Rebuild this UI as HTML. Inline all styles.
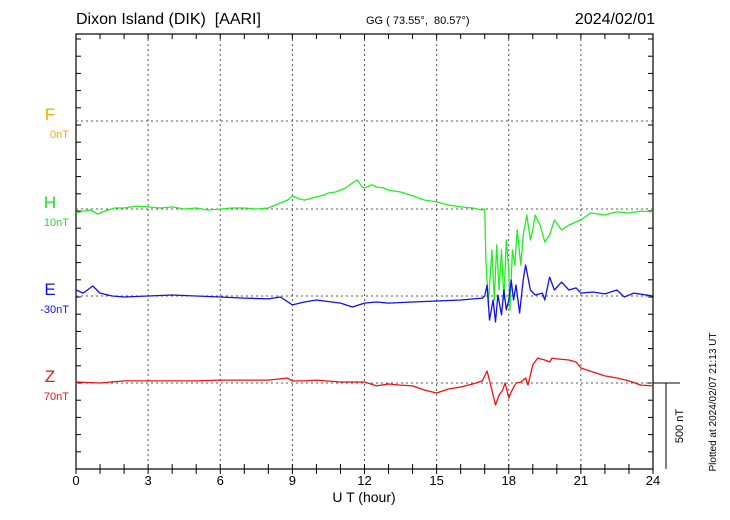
<!DOCTYPE html>
<html><head><meta charset="utf-8"><style>
body{margin:0;background:#fff}
svg{display:block;font-family:"Liberation Sans",sans-serif}
</style></head><body>
<svg id="c" width="730" height="520" viewBox="0 0 730 520">
<text x="76" y="24" font-size="16">Dixon Island (DIK)&#160;&#160;[AARI]</text>
<text x="366" y="24" font-size="11">GG ( 73.55°,&#160;&#160;80.57°)</text>
<text x="655" y="24" font-size="16" text-anchor="end">2024/02/01</text>
<text x="364" y="502" font-size="14" text-anchor="middle">U T (hour)</text>
<text transform="translate(716,402) rotate(-90)" font-size="10" text-anchor="middle">Plotted at 2024/02/07 21:13 UT</text>
<text transform="translate(683,426) rotate(-90)" font-size="11" text-anchor="middle">500 nT</text>
<g id="g"></g>
</svg>
<script>
const xTicks=[0,3,6,9,12,15,18,21,24];
const labels=['F','H','E','Z'];
const offsets=['0nT','10nT','-30nT','70nT'];
const colors=['#f5a800','#22dd22','#1010e0','#ee1111'];
const lineColors=['#f5a800','#22ee22','#1010ee','#ee1111'];
const baseY=[121,209,296,383];
const hHours=[0,0.3,0.6,0.9,1.2,1.6,2,2.5,3,3.5,4,4.5,5,5.5,6,6.5,7,7.5,8,8.5,8.8,9,9.3,9.5,10,10.3,10.5,10.8,11,11.2,11.5,11.7,11.9,12,12.3,12.5,12.8,13,13.5,14,14.5,15,15.5,16,16.5,16.9,17.0,17.05,17.15,17.3,17.4,17.5,17.6,17.7,17.8,17.9,18.0,18.05,18.15,18.25,18.35,18.5,18.6,18.75,18.9,19.0,19.1,19.3,19.5,19.7,19.9,20.2,20.5,21,21.4,22,22.5,23,23.5,24];
const hVals=[-23,-12,-6,-29,-12,6,6,17,12,6,12,0,6,-6,0,6,6,0,6,35,52,76,58,52,70,81,93,99,110,122,151,169,128,122,140,128,122,110,99,76,52,41,23,12,6,-6,0,-297,-558,-238,-529,-209,-471,-238,-529,-180,-355,-587,-238,-326,-122,-326,-151,-35,-180,-122,-35,-93,-192,-151,-64,-122,-93,-64,-23,-35,-17,-23,-12,-17];
const eHours=[0,0.3,0.7,1,1.5,2,3,4,5,6,7,8,8.5,9,9.5,10,11,11.5,12,12.5,13,14,15,16,16.9,17.0,17.1,17.2,17.35,17.45,17.55,17.7,17.8,17.9,18.0,18.1,18.2,18.3,18.45,18.6,18.7,18.9,19.1,19.4,19.5,19.7,19.9,20.2,20.5,20.8,21,21.5,22,22.5,22.8,23.2,24];
const eVals=[35,17,58,17,0,-6,0,6,0,-6,-12,-17,-6,-52,-35,-23,-41,-64,-41,-35,-41,-35,-29,-23,-12,0,64,-140,-23,-151,6,-110,35,-81,-23,93,-23,64,-99,93,180,35,6,17,-23,110,35,81,35,47,17,23,12,35,-6,17,0];
const zHours=[0,1,2,3,4,5,6,7,8,8.8,9,9.5,10,11,12,12.5,13,13.5,14,14.5,15,15.5,16,16.5,16.9,17.1,17.3,17.45,17.6,17.75,17.85,18.0,18.1,18.3,18.5,18.7,18.8,19.0,19.2,19.5,19.7,19.8,20,20.5,20.8,21,21.5,22,22.5,23,23.5,24];
const zVals=[6,0,12,12,12,12,17,17,17,29,12,12,17,6,6,-17,-6,-12,-17,-41,-58,-35,-23,-6,12,70,-41,-128,-70,-41,0,-87,-52,0,6,29,-12,105,145,134,122,145,140,134,122,87,64,41,29,12,-12,-17];
const px=h=>76+h*(577/24);
const py=(i,v)=>baseY[i]-v*0.172;
const g=document.getElementById('g');
const NS='http://www.w3.org/2000/svg';
function mk(t,a){const e=document.createElementNS(NS,t);for(const k in a)e.setAttribute(k,a[k]);g.appendChild(e);return e;}
let e=mk('rect',{x:76,y:34,width:577,height:435,fill:'none',stroke:'#000','stroke-width':1.2});


xTicks.forEach(t=>{if(t>0&&t<24){const l=mk('line',{x1:px(t),x2:px(t),y1:34,y2:469,stroke:'#555','stroke-dasharray':'2,3'});

}
const tx=mk('text',{x:px(t),y:485,'font-size':13,'text-anchor':'middle'});tx.textContent=t;

});
for(let h=0;h<=24;h++){mk('line',{x1:px(h),x2:px(h),y1:34,y2:39,stroke:'#000'});mk('line',{x1:px(h),x2:px(h),y1:469,y2:464,stroke:'#000'});mk('line',{x1:px(h),x2:px(h),y1:469,y2:474,stroke:'#000'});}
for(let y=383;y>=34;y-=17.2){mk('line',{x1:76,x2:81,y1:y,y2:y,stroke:'#000'});mk('line',{x1:648,x2:653,y1:y,y2:y,stroke:'#000'});}
for(let y=383;y<=469;y+=17.2){mk('line',{x1:76,x2:81,y1:y,y2:y,stroke:'#000'});mk('line',{x1:648,x2:653,y1:y,y2:y,stroke:'#000'});}
baseY.forEach((y,i)=>{const l=mk('line',{x1:76,x2:653,y1:y,y2:y,stroke:'#555','stroke-dasharray':'2,3'});


const t=mk('text',{x:50,y:y-1,'font-size':17,'text-anchor':'middle',fill:colors[i]});t.textContent=labels[i];


const o=mk('text',{x:69,y:y+17,'font-size':11,'text-anchor':'end',fill:colors[i]});o.textContent=offsets[i];

});
mk('line',{x1:653,x2:680,y1:383,y2:383,stroke:'#000'});
e=mk('line',{x1:666,x2:666,y1:383,y2:469,stroke:'#000'});


[[1,hHours,hVals,'h'],[2,eHours,eVals,'e'],[3,zHours,zVals,'z']].forEach(([i,hs,vs,n])=>{
const d=hs.map((h,k)=>(k?'L':'M')+px(h).toFixed(1)+','+py(i,vs[k]).toFixed(1)).join('');
const p=mk('path',{d:d,fill:'none',stroke:lineColors[i],'stroke-width':1.3,'stroke-linejoin':'round'});

});
</script>
</body></html>
